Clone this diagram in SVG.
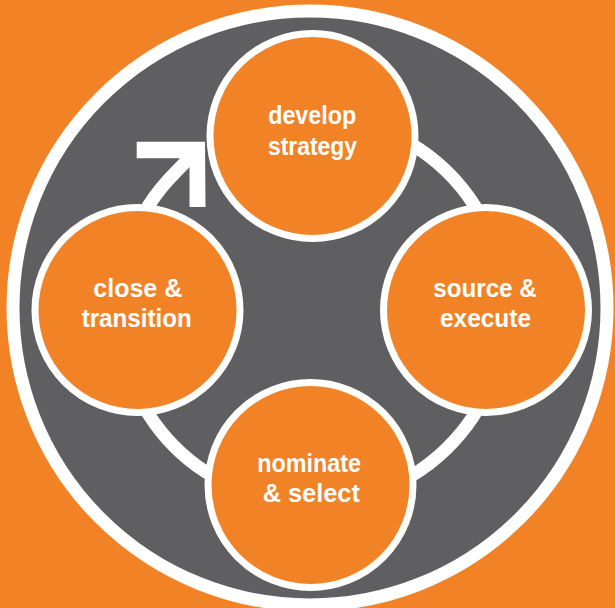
<svg xmlns="http://www.w3.org/2000/svg" width="615" height="608" viewBox="0 0 615 608">
  <style>
    .bg { fill: #F28226; }
    .frame { fill: #5F5F61; stroke: #FFFFFF; stroke-width: 13; }
    .ring { fill: none; stroke: #FFFFFF; stroke-width: 13; stroke-linecap: butt; }
    .head { fill: #FFFFFF; }
    .node { fill: #F28226; stroke: #FFFFFF; stroke-width: 7; }
    .lbl { font-family: "Liberation Sans", Arial, sans-serif; font-weight: bold; font-size: 26px; fill: #FFFFFF; text-anchor: middle; }
  </style>
  <rect class="bg" x="0" y="0" width="615" height="608"/>
  <circle id="frame" class="frame" cx="310" cy="308" r="297"/>

  <g id="connectors">
    <!-- cycle ring: starts inside top node, runs clockwise round to the top-left, then straight into the arrow head -->
    <path class="ring" d="M 345.1 119.4 A 193.5 193.5 0 1 1 174.7 173.2 L 198 149"/>
    <polygon class="head" points="136.7,141.7 205,141.7 205.5,207 189.5,207 189.5,158.3 136.7,158.3"/>
  </g>

  <g id="node-develop">
    <circle class="node" cx="312.5" cy="136" r="102.5"/>
    <text class="lbl" x="312.2" y="123.5" textLength="88" lengthAdjust="spacingAndGlyphs">develop</text>
    <text class="lbl" x="312.5" y="154.5" textLength="89" lengthAdjust="spacingAndGlyphs">strategy</text>
  </g>
  <g id="node-source">
    <circle class="node" cx="486" cy="310" r="102.5"/>
    <text class="lbl" x="485" y="296.7" textLength="103.4" lengthAdjust="spacingAndGlyphs">source &amp;</text>
    <text class="lbl" x="485.5" y="326.7" textLength="91" lengthAdjust="spacingAndGlyphs">execute</text>
  </g>
  <g id="node-nominate">
    <circle class="node" cx="310.5" cy="485" r="102.5"/>
    <text class="lbl" x="309.2" y="471.7" textLength="103.7" lengthAdjust="spacingAndGlyphs">nominate</text>
    <text class="lbl" x="311.3" y="501.7" textLength="97.3" lengthAdjust="spacingAndGlyphs">&amp; select</text>
  </g>
  <g id="node-close">
    <circle class="node" cx="137.5" cy="310" r="102.5"/>
    <text class="lbl" x="137.8" y="296.7" textLength="89" lengthAdjust="spacingAndGlyphs">close &amp;</text>
    <text class="lbl" x="136.7" y="326.7" textLength="110" lengthAdjust="spacingAndGlyphs">transition</text>
  </g>
</svg>
